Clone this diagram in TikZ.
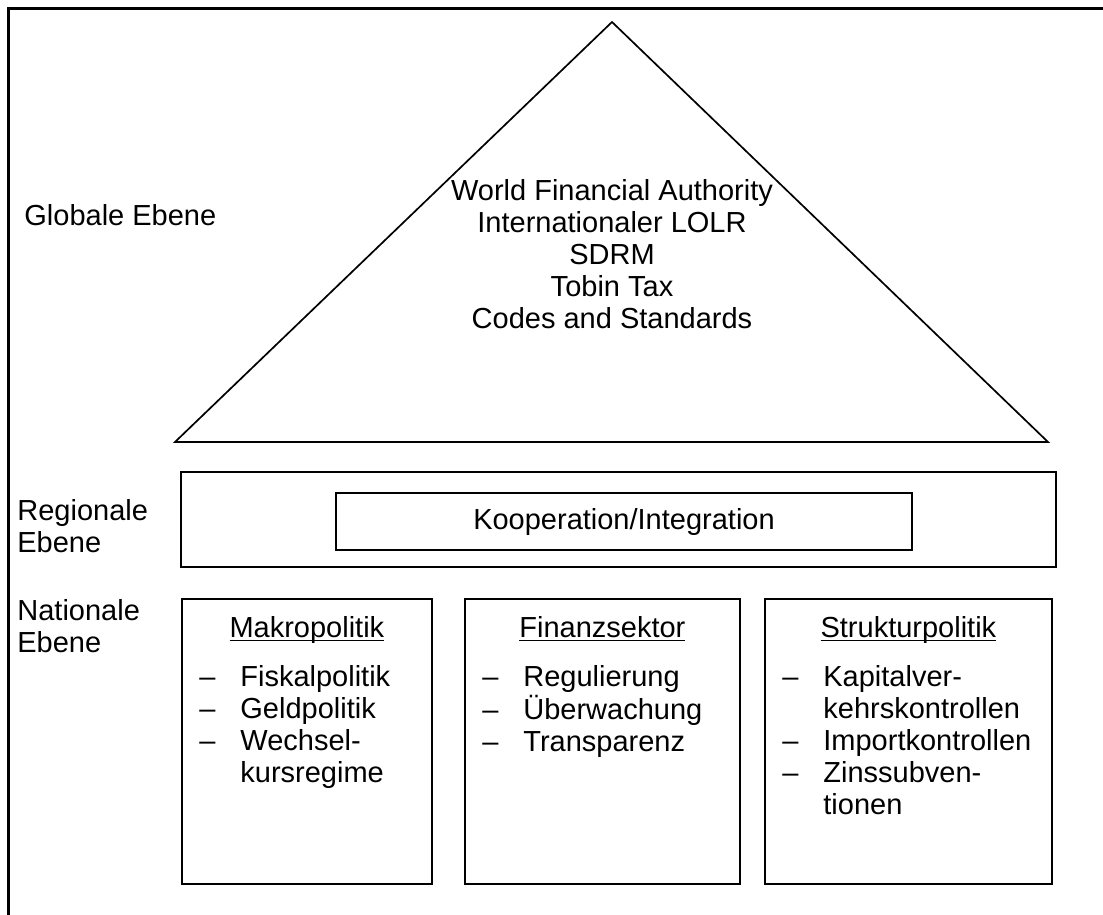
\documentclass[tikz,border=0pt]{standalone}
\usepackage{fontspec}
\setmainfont{Liberation Sans}
\usetikzlibrary{positioning}

% mehrzeilige Texte, Grundlinie = erste Zeile
\newcommand{\zeilen}[2][l]{\begin{tabular}[t]{@{}#1@{}}#2\end{tabular}}
\newcommand{\spiegel}[1]{\begin{tabular}[t]{@{}p{20.5pt}@{}l@{}}#1\end{tabular}}
\newcommand{\unterstrichen}[1]{\setbox0\hbox{#1}\rlap{\rule[-2pt]{\wd0}{0.65pt}}\box0}

\begin{document}
\begin{tikzpicture}[x=0.5pt,y=-0.5pt,
    font=\fontsize{14.5}{16}\selectfont,
    linie/.style={line width=0.85pt,line join=miter},
    kasten/.style={draw,line width=0.9pt,inner sep=0pt},
    beschriftung/.style={inner sep=0pt,anchor=base west},
    kopf/.style={inner sep=0pt,anchor=base}]
    \useasboundingbox (0,0) rectangle (1103,915);
    % Rahmen (rechts und unten abgeschnitten)
    \draw[line width=1.5pt] (8,940) -- (8,9) -- (1130,9);

    % Globale Ebene
    \coordinate (spitze) at (612,22);
    \coordinate (links) at (175,442);
    \coordinate (rechts) at (1048,442);
    \draw[linie] (links) -- (spitze) -- (rechts) -- cycle;
    \node[kopf] (global) at (612,200) {\zeilen[c]{World Financial Authority\\Internationaler LOLR\\SDRM\\Tobin Tax\\Codes and Standards}};
    \node[beschriftung] (globlabel) at (24,225) {Globale Ebene};

    % Regionale Ebene
    \node[kasten,minimum width=437.5pt,minimum height=47.5pt] (regio) at (618.5,519.5) {};
    \node[kasten,minimum width=288pt,minimum height=28.5pt] (koop) at (624,521.5) {Kooperation/Integration};
    \node[beschriftung] (regiolabel) at (17,520) {\zeilen{Regionale\\Ebene}};

    % Nationale Ebene
    \node[beschriftung] (natlabel) at (17,620) {\zeilen{Nationale\\Ebene}};
    \node[kasten,anchor=north west,minimum width=125pt,minimum height=142.5pt] (makro) at (181,598) {};
    \node[kasten,anchor=north west,minimum width=137.5pt,minimum height=142.5pt] (finanz) at (464,598) {};
    \node[kasten,anchor=north west,minimum width=143.5pt,minimum height=142.5pt] (struktur) at (764,598) {};

    \node[kopf] (makrokopf) at ([shift={(0,39)}]makro.north) {\unterstrichen{Makropolitik}};
    \node[kopf] (finanzkopf) at ([shift={(0,39)}]finanz.north) {\unterstrichen{Finanzsektor}};
    \node[kopf] (strukturkopf) at ([shift={(0,39)}]struktur.north) {\unterstrichen{Strukturpolitik}};

    \node[beschriftung] (makroliste) at ([shift={(18,88)}]makro.north west)
        {\spiegel{\textendash & Fiskalpolitik\\ \textendash & Geldpolitik\\ \textendash & Wechsel-\\ & kursregime}};
    \node[beschriftung] (finanzliste) at ([shift={(18,88)}]finanz.north west)
        {\spiegel{\textendash & Regulierung\\ \textendash & Überwachung\\ \textendash & Transparenz}};
    \node[beschriftung] (strukturliste) at ([shift={(18,88)}]struktur.north west)
        {\spiegel{\textendash & Kapitalver-\\ & kehrskontrollen\\ \textendash & Importkontrollen\\ \textendash & Zinssubven-\\ & tionen}};
\end{tikzpicture}
\end{document}
